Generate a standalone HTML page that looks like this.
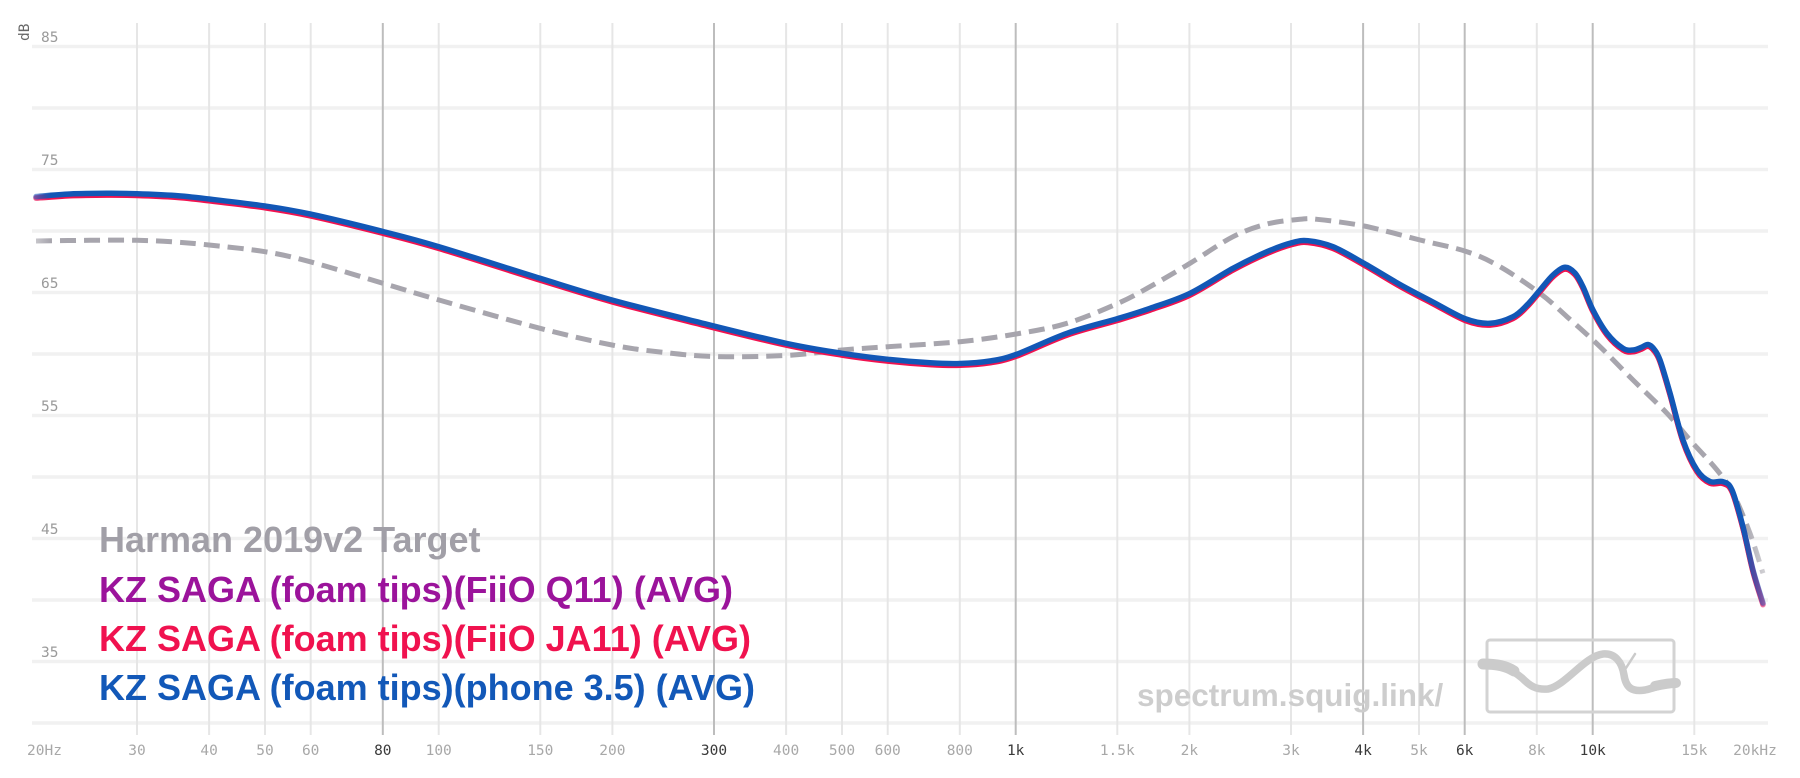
<!DOCTYPE html>
<html>
<head>
<meta charset="utf-8">
<style>
  html,body{margin:0;padding:0;background:#fff;}
  svg{display:block;}
  .yl{font-family:"DejaVu Sans Mono","Liberation Mono",monospace;font-size:14.5px;fill:#9a9a9a;}
  .xl{font-family:"DejaVu Sans Mono","Liberation Mono",monospace;font-size:14.5px;fill:#a8a8a8;text-anchor:middle;}
  .xd{fill:#3a3a3a;}
  .lg{font-family:"Liberation Sans",Arial,sans-serif;font-weight:bold;font-size:36px;}
</style>
</head>
<body>
<svg id="chart" width="1800" height="778" viewBox="0 0 1800 778" xmlns="http://www.w3.org/2000/svg">
  <defs>
    <linearGradient id="gB" gradientUnits="userSpaceOnUse" x1="30" y1="0" x2="1770" y2="0">
      <stop offset="0" stop-color="#1257b6" stop-opacity="0.35"/>
      <stop offset="0.012" stop-color="#1257b6" stop-opacity="1"/>
      <stop offset="0.985" stop-color="#1257b6" stop-opacity="1"/>
      <stop offset="1" stop-color="#1257b6" stop-opacity="0.25"/>
    </linearGradient>
    <linearGradient id="gR" gradientUnits="userSpaceOnUse" x1="30" y1="0" x2="1770" y2="0">
      <stop offset="0" stop-color="#f0124f" stop-opacity="0.35"/>
      <stop offset="0.012" stop-color="#f0124f" stop-opacity="1"/>
      <stop offset="0.985" stop-color="#f0124f" stop-opacity="1"/>
      <stop offset="1" stop-color="#f0124f" stop-opacity="0.25"/>
    </linearGradient>
    <linearGradient id="gP" gradientUnits="userSpaceOnUse" x1="30" y1="0" x2="1770" y2="0">
      <stop offset="0" stop-color="#9a159c" stop-opacity="0.35"/>
      <stop offset="0.012" stop-color="#9a159c" stop-opacity="1"/>
      <stop offset="0.985" stop-color="#9a159c" stop-opacity="1"/>
      <stop offset="1" stop-color="#9a159c" stop-opacity="0.25"/>
    </linearGradient>
    <linearGradient id="gT" gradientUnits="userSpaceOnUse" x1="30" y1="0" x2="1770" y2="0">
      <stop offset="0" stop-color="#a7a5ad" stop-opacity="0.5"/>
      <stop offset="0.012" stop-color="#a7a5ad" stop-opacity="1"/>
      <stop offset="0.985" stop-color="#a7a5ad" stop-opacity="1"/>
      <stop offset="1" stop-color="#a7a5ad" stop-opacity="0.4"/>
    </linearGradient>
  </defs>

  <!-- horizontal gridlines every 5 dB -->
  <g stroke="#f1f1f1" stroke-width="3.5">
    <line x1="32" y1="46.5" x2="1768" y2="46.5"/>
    <line x1="32" y1="108" x2="1768" y2="108"/>
    <line x1="32" y1="169.5" x2="1768" y2="169.5"/>
    <line x1="32" y1="231" x2="1768" y2="231"/>
    <line x1="32" y1="292.5" x2="1768" y2="292.5"/>
    <line x1="32" y1="354" x2="1768" y2="354"/>
    <line x1="32" y1="415.5" x2="1768" y2="415.5"/>
    <line x1="32" y1="477" x2="1768" y2="477"/>
    <line x1="32" y1="538.5" x2="1768" y2="538.5"/>
    <line x1="32" y1="600" x2="1768" y2="600"/>
    <line x1="32" y1="661.5" x2="1768" y2="661.5"/>
    <line x1="32" y1="723" x2="1768" y2="723"/>
  </g>

  <!-- vertical gridlines (light) -->
  <g stroke="#e6e6e6" stroke-width="2">
    <line x1="137" y1="23" x2="137" y2="735"/>
    <line x1="209.1" y1="23" x2="209.1" y2="735"/>
    <line x1="265" y1="23" x2="265" y2="735"/>
    <line x1="310.7" y1="23" x2="310.7" y2="735"/>
    <line x1="438.7" y1="23" x2="438.7" y2="735"/>
    <line x1="540.3" y1="23" x2="540.3" y2="735"/>
    <line x1="612.4" y1="23" x2="612.4" y2="735"/>
    <line x1="786.1" y1="23" x2="786.1" y2="735"/>
    <line x1="842" y1="23" x2="842" y2="735"/>
    <line x1="887.7" y1="23" x2="887.7" y2="735"/>
    <line x1="959.8" y1="23" x2="959.8" y2="735"/>
    <line x1="1117.3" y1="23" x2="1117.3" y2="735"/>
    <line x1="1189.4" y1="23" x2="1189.4" y2="735"/>
    <line x1="1291" y1="23" x2="1291" y2="735"/>
    <line x1="1419" y1="23" x2="1419" y2="735"/>
    <line x1="1536.8" y1="23" x2="1536.8" y2="735"/>
    <line x1="1694.3" y1="23" x2="1694.3" y2="735"/>
  </g>
  <!-- vertical gridlines (dark) -->
  <g stroke="#bdbdbd" stroke-width="2">
    <line x1="382.8" y1="23" x2="382.8" y2="735"/>
    <line x1="714" y1="23" x2="714" y2="735"/>
    <line x1="1015.7" y1="23" x2="1015.7" y2="735"/>
    <line x1="1363.1" y1="23" x2="1363.1" y2="735"/>
    <line x1="1464.7" y1="23" x2="1464.7" y2="735"/>
    <line x1="1592.7" y1="23" x2="1592.7" y2="735"/>
  </g>

  <!-- y labels -->
  <text class="yl" x="41" y="42">85</text>
  <text class="yl" x="41" y="165">75</text>
  <text class="yl" x="41" y="288">65</text>
  <text class="yl" x="41" y="411">55</text>
  <text class="yl" x="41" y="534">45</text>
  <text class="yl" x="41" y="657">35</text>
  <text class="yl" transform="translate(29,41) rotate(-90)" style="fill:#666">dB</text>

  <!-- x labels -->
  <text class="xl" x="44.5" y="755">20Hz</text>
  <text class="xl" x="137" y="755">30</text>
  <text class="xl" x="209.1" y="755">40</text>
  <text class="xl" x="265" y="755">50</text>
  <text class="xl" x="310.7" y="755">60</text>
  <text class="xl xd" x="382.8" y="755">80</text>
  <text class="xl" x="438.7" y="755">100</text>
  <text class="xl" x="540.3" y="755">150</text>
  <text class="xl" x="612.4" y="755">200</text>
  <text class="xl xd" x="714" y="755">300</text>
  <text class="xl" x="786.1" y="755">400</text>
  <text class="xl" x="842" y="755">500</text>
  <text class="xl" x="887.7" y="755">600</text>
  <text class="xl" x="959.8" y="755">800</text>
  <text class="xl xd" x="1015.7" y="755">1k</text>
  <text class="xl" x="1117.3" y="755">1.5k</text>
  <text class="xl" x="1189.4" y="755">2k</text>
  <text class="xl" x="1291" y="755">3k</text>
  <text class="xl xd" x="1363.1" y="755">4k</text>
  <text class="xl" x="1419" y="755">5k</text>
  <text class="xl xd" x="1464.7" y="755">6k</text>
  <text class="xl" x="1536.8" y="755">8k</text>
  <text class="xl xd" x="1592.7" y="755">10k</text>
  <text class="xl" x="1694.3" y="755">15k</text>
  <text class="xl" x="1755" y="755">20kHz</text>

  <!-- watermark -->
  <text x="1137" y="706" style="font-family:'Liberation Sans',Arial,sans-serif;font-weight:bold;font-size:31.5px;fill:#cdcdcd;">spectrum.squig.link/</text>
  <rect x="1487" y="640" width="187" height="72" rx="3" fill="none" stroke="#d3d3d3" stroke-width="3"/>
  <g fill="none" stroke="#cbcbcb" stroke-linecap="round">
    <path d="M1483,664 C1500,664 1510,668 1522,678 C1530,686 1536,690 1548,689 C1565,686 1585,656 1603,654 C1615,653 1622,662 1624,675 C1626,688 1632,692 1645,690 C1655,688 1665,683 1676,683" stroke-width="7.5"/>
    <path d="M1483,664 C1497,664 1506,666 1514,671" stroke-width="11"/>
    <path d="M1655,686 C1664,684 1670,683 1676,683" stroke-width="10"/>
    <path d="M1626,668 L1635,654" stroke-width="2.5"/>
  </g>

  <!-- target (dashed) -->
  <path class="smooth" fill="none" stroke="url(#gT)" stroke-width="5" stroke-dasharray="16 8"
    d="M36,241 L90,240.3 L137,240.3 L175,242 L209,245 L265,251.7 L310,261.7 L383,283.3 L439,300 L540,328.3 L612,345 L660,352 L714,356.5 L786,355.5 L842,350 L888,346.7 L960,341.7 L1016,334 L1067,323.3 L1118,303.3 L1150,286.7 L1190,263.3 L1233,236.7 L1267,224 L1300,219.3 L1317,219.3 L1364,226 L1420,240 L1467,251.7 L1500,266.7 L1540,293.3 L1567,316.7 L1600,346.7 L1633,380 L1667,413.3 L1690,440 L1717,470 L1733,493.3 L1750,533.3 L1763,573.3"/>

  <!-- measurement curves -->
  <g fill="none" stroke-linejoin="round" stroke-linecap="round">
    <path class="smooth" stroke="url(#gP)" stroke-width="5.5" transform="translate(0,1)" d="M36,196.5 L70,194 L107,193.3 L137,193.7 L175,195.5 L209,199 L265,206 L310,214 L383,231.5 L439,246.7 L540,278.3 L612,300 L700,322.5 L786,343.3 L842,353.3 L888,359.3 L930,362.8 L960,363.5 L990,361 L1016,354.5 L1067,333.3 L1118,318.5 L1150,308.3 L1190,293.3 L1233,268.3 L1267,251.7 L1292,242.7 L1308,240.7 L1333,246.7 L1364,263.3 L1400,284.5 L1433,302 L1466,319 L1490,323.3 L1513,316.7 L1527,305 L1540,290 L1553,275 L1565,267.3 L1575,273 L1583,286.7 L1593,310 L1607,333.3 L1623,348.3 L1633,350 L1641,347.5 L1648,344.5 L1654,349 L1660,360 L1670,393 L1683,440 L1697,470 L1710,481.5 L1723,481.7 L1732,490 L1743,526.7 L1753,570 L1763,603"/>
    <path class="smooth" stroke="url(#gR)" stroke-width="5.5" transform="translate(0,1.8)" d="M36,196.5 L70,194 L107,193.3 L137,193.7 L175,195.5 L209,199 L265,206 L310,214 L383,231.5 L439,246.7 L540,278.3 L612,300 L700,322.5 L786,343.3 L842,353.3 L888,359.3 L930,362.8 L960,363.5 L990,361 L1016,354.5 L1067,333.3 L1118,318.5 L1150,308.3 L1190,293.3 L1233,268.3 L1267,251.7 L1292,242.7 L1308,240.7 L1333,246.7 L1364,263.3 L1400,284.5 L1433,302 L1466,319 L1490,323.3 L1513,316.7 L1527,305 L1540,290 L1553,275 L1565,267.3 L1575,273 L1583,286.7 L1593,310 L1607,333.3 L1623,348.3 L1633,350 L1641,347.5 L1648,344.5 L1654,349 L1660,360 L1670,393 L1683,440 L1697,470 L1710,481.5 L1723,481.7 L1732,490 L1743,526.7 L1753,570 L1763,603"/>
    <path class="smooth" stroke="url(#gB)" stroke-width="5.5" d="M36,196.5 L70,194 L107,193.3 L137,193.7 L175,195.5 L209,199 L265,206 L310,214 L383,231.5 L439,246.7 L540,278.3 L612,300 L700,322.5 L786,343.3 L842,353.3 L888,359.3 L930,362.8 L960,363.5 L990,361 L1016,354.5 L1067,333.3 L1118,318.5 L1150,308.3 L1190,293.3 L1233,268.3 L1267,251.7 L1292,242.7 L1308,240.7 L1333,246.7 L1364,263.3 L1400,284.5 L1433,302 L1466,319 L1490,323.3 L1513,316.7 L1527,305 L1540,290 L1553,275 L1565,267.3 L1575,273 L1583,286.7 L1593,310 L1607,333.3 L1623,348.3 L1633,350 L1641,347.5 L1648,344.5 L1654,349 L1660,360 L1670,393 L1683,440 L1697,470 L1710,481.5 L1723,481.7 L1732,490 L1743,526.7 L1753,570 L1763,603"/>
  </g>

  <!-- legend -->
  <text class="lg" x="99" y="552" fill="#a19fa7">Harman 2019v2 Target</text>
  <text class="lg" x="99" y="602" fill="#9b139b">KZ SAGA (foam tips)(FiiO Q11) (AVG)</text>
  <text class="lg" x="99" y="651" fill="#f0124f">KZ SAGA (foam tips)(FiiO JA11) (AVG)</text>
  <text class="lg" x="99" y="700" fill="#1258b8">KZ SAGA (foam tips)(phone 3.5) (AVG)</text>
</svg>
<script>
(function(){
  var paths = document.querySelectorAll('path.smooth');
  for (var k = 0; k < paths.length; k++) {
    var p = paths[k];
    var nums = p.getAttribute('d').match(/-?\d+(\.\d+)?/g).map(Number);
    var pts = [];
    for (var i = 0; i < nums.length; i += 2) pts.push([nums[i], nums[i+1]]);
    var d = 'M' + pts[0][0] + ',' + pts[0][1];
    for (var j = 0; j < pts.length - 1; j++) {
      var p0 = pts[j-1] || pts[j], p1 = pts[j], p2 = pts[j+1], p3 = pts[j+2] || pts[j+1];
      var c1x = p1[0] + (p2[0]-p0[0])/6, c1y = p1[1] + (p2[1]-p0[1])/6;
      var c2x = p2[0] - (p3[0]-p1[0])/6, c2y = p2[1] - (p3[1]-p1[1])/6;
      d += ' C' + c1x.toFixed(2) + ',' + c1y.toFixed(2) + ' ' + c2x.toFixed(2) + ',' + c2y.toFixed(2) + ' ' + p2[0] + ',' + p2[1];
    }
    p.setAttribute('d', d);
  }
})();
</script>
</body>
</html>
